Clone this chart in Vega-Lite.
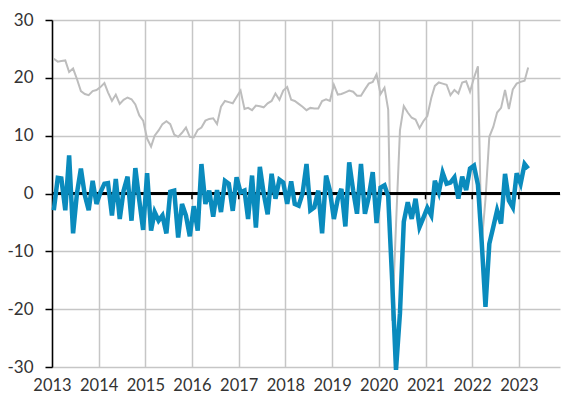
{
  "$schema": "https://vega.github.io/schema/vega-lite/v6.json",
  "autosize": {"type": "none"},
  "width": 508,
  "height": 347,
  "padding": {"left": 52, "top": 20, "right": 3, "bottom": 33},
  "background": "white",
  "config": {
    "view": {"stroke": null},
    "axis": {"labelFont": "Lato", "labelFontSize": 16, "labelColor": "#333333", "gridColor": "#c6c6c6", "gridWidth": 1.5}
  },
  "datasets": {
    "series": [
      {"d": "2013-01-15", "a": 23.3, "b": -2.9},
      {"d": "2013-02-15", "a": 22.8, "b": 2.7},
      {"d": "2013-03-15", "a": 22.9, "b": 2.6},
      {"d": "2013-04-15", "a": 23.0, "b": -2.9},
      {"d": "2013-05-15", "a": 21.0, "b": 6.6},
      {"d": "2013-06-15", "a": 21.6, "b": -6.9},
      {"d": "2013-07-15", "a": 19.8, "b": 0.0},
      {"d": "2013-08-15", "a": 17.7, "b": 4.3},
      {"d": "2013-09-15", "a": 17.2, "b": -0.3},
      {"d": "2013-10-15", "a": 17.0, "b": -2.9},
      {"d": "2013-11-15", "a": 17.7, "b": 2.2},
      {"d": "2013-12-15", "a": 17.9, "b": -1.8},
      {"d": "2014-01-15", "a": 18.4, "b": 0.2},
      {"d": "2014-02-15", "a": 19.1, "b": 1.7},
      {"d": "2014-03-15", "a": 17.5, "b": 1.8},
      {"d": "2014-04-15", "a": 16.0, "b": -3.8},
      {"d": "2014-05-15", "a": 17.1, "b": 2.5},
      {"d": "2014-06-15", "a": 15.5, "b": -4.4},
      {"d": "2014-07-15", "a": 16.2, "b": 0.5},
      {"d": "2014-08-15", "a": 16.6, "b": 2.9},
      {"d": "2014-09-15", "a": 16.3, "b": -4.7},
      {"d": "2014-10-15", "a": 15.4, "b": 4.4},
      {"d": "2014-11-15", "a": 13.5, "b": -1.2},
      {"d": "2014-12-15", "a": 12.6, "b": -6.3},
      {"d": "2015-01-15", "a": 9.5, "b": 3.5},
      {"d": "2015-02-15", "a": 8.1, "b": -6.4},
      {"d": "2015-03-15", "a": 10.0, "b": -3.2},
      {"d": "2015-04-15", "a": 10.9, "b": -4.7},
      {"d": "2015-05-15", "a": 12.0, "b": -3.8},
      {"d": "2015-06-15", "a": 12.5, "b": -6.9},
      {"d": "2015-07-15", "a": 12.0, "b": 0.3},
      {"d": "2015-08-15", "a": 10.2, "b": 0.5},
      {"d": "2015-09-15", "a": 9.8, "b": -7.6},
      {"d": "2015-10-15", "a": 10.5, "b": -1.8},
      {"d": "2015-11-15", "a": 11.4, "b": -3.8},
      {"d": "2015-12-15", "a": 9.8, "b": -7.4},
      {"d": "2016-01-15", "a": 9.7, "b": -2.2},
      {"d": "2016-02-15", "a": 11.0, "b": -6.4},
      {"d": "2016-03-15", "a": 11.4, "b": 5.1},
      {"d": "2016-04-15", "a": 12.6, "b": -1.8},
      {"d": "2016-05-15", "a": 12.9, "b": 0.5},
      {"d": "2016-06-15", "a": 13.0, "b": -4.0},
      {"d": "2016-07-15", "a": 12.0, "b": 0.6},
      {"d": "2016-08-15", "a": 15.0, "b": -3.2},
      {"d": "2016-09-15", "a": 16.0, "b": 2.2},
      {"d": "2016-10-15", "a": 15.8, "b": 1.7},
      {"d": "2016-11-15", "a": 15.6, "b": -3.0},
      {"d": "2016-12-15", "a": 16.7, "b": 2.8},
      {"d": "2017-01-15", "a": 17.8, "b": 0.2},
      {"d": "2017-02-15", "a": 14.6, "b": 0.5},
      {"d": "2017-03-15", "a": 14.8, "b": -4.4},
      {"d": "2017-04-15", "a": 14.4, "b": 3.1},
      {"d": "2017-05-15", "a": 15.2, "b": -5.9},
      {"d": "2017-06-15", "a": 15.1, "b": 4.6},
      {"d": "2017-07-15", "a": 14.9, "b": 0.0},
      {"d": "2017-08-15", "a": 15.6, "b": -3.6},
      {"d": "2017-09-15", "a": 16.0, "b": 3.4},
      {"d": "2017-10-15", "a": 17.3, "b": -0.9},
      {"d": "2017-11-15", "a": 16.2, "b": 2.4},
      {"d": "2017-12-15", "a": 17.8, "b": 1.9},
      {"d": "2018-01-15", "a": 18.4, "b": -1.8},
      {"d": "2018-02-15", "a": 16.2, "b": 2.1},
      {"d": "2018-03-15", "a": 16.0, "b": -1.8},
      {"d": "2018-04-15", "a": 15.5, "b": -2.1},
      {"d": "2018-05-15", "a": 15.0, "b": 0.0},
      {"d": "2018-06-15", "a": 14.4, "b": 5.1},
      {"d": "2018-07-15", "a": 14.8, "b": -2.9},
      {"d": "2018-08-15", "a": 14.7, "b": -2.4},
      {"d": "2018-09-15", "a": 14.7, "b": 0.5},
      {"d": "2018-10-15", "a": 16.0, "b": -6.9},
      {"d": "2018-11-15", "a": 16.3, "b": 3.1},
      {"d": "2018-12-15", "a": 16.0, "b": 0.5},
      {"d": "2019-01-15", "a": 18.8, "b": -4.4},
      {"d": "2019-02-15", "a": 17.1, "b": -0.9},
      {"d": "2019-03-15", "a": 17.2, "b": 0.8},
      {"d": "2019-04-15", "a": 17.5, "b": -5.7},
      {"d": "2019-05-15", "a": 17.8, "b": 5.4},
      {"d": "2019-06-15", "a": 17.6, "b": 0.5},
      {"d": "2019-07-15", "a": 16.9, "b": -3.5},
      {"d": "2019-08-15", "a": 16.9, "b": 5.1},
      {"d": "2019-09-15", "a": 18.0, "b": -3.5},
      {"d": "2019-10-15", "a": 19.0, "b": -0.6},
      {"d": "2019-11-15", "a": 19.3, "b": 3.7},
      {"d": "2019-12-15", "a": 20.6, "b": -5.1},
      {"d": "2020-01-15", "a": 17.2, "b": 1.0},
      {"d": "2020-02-15", "a": 18.3, "b": 1.4},
      {"d": "2020-03-15", "a": 14.5, "b": -0.5},
      {"d": "2020-04-15", "a": -22.0, "b": -15.0},
      {"d": "2020-05-15", "a": -5.5, "b": -30.5},
      {"d": "2020-06-15", "a": 10.9, "b": -20.7},
      {"d": "2020-07-15", "a": 15.1, "b": -4.9},
      {"d": "2020-08-15", "a": 14.0, "b": -1.5},
      {"d": "2020-09-15", "a": 13.1, "b": -4.4},
      {"d": "2020-10-15", "a": 12.8, "b": -0.9},
      {"d": "2020-11-15", "a": 11.3, "b": -5.8},
      {"d": "2020-12-15", "a": 12.5, "b": -4.2},
      {"d": "2021-01-15", "a": 13.4, "b": -2.5},
      {"d": "2021-02-15", "a": 16.5, "b": -3.8},
      {"d": "2021-03-15", "a": 18.6, "b": 2.2},
      {"d": "2021-04-15", "a": 19.2, "b": 0.2},
      {"d": "2021-05-15", "a": 19.0, "b": 3.6},
      {"d": "2021-06-15", "a": 18.8, "b": 1.7},
      {"d": "2021-07-15", "a": 17.0, "b": 1.9},
      {"d": "2021-08-15", "a": 17.9, "b": 2.8},
      {"d": "2021-09-15", "a": 17.3, "b": -0.9},
      {"d": "2021-10-15", "a": 19.2, "b": 2.9},
      {"d": "2021-11-15", "a": 19.4, "b": 0.6},
      {"d": "2021-12-15", "a": 17.6, "b": 4.3},
      {"d": "2022-01-15", "a": 20.0, "b": 4.8},
      {"d": "2022-02-15", "a": 22.0, "b": 1.5},
      {"d": "2022-03-15", "a": -9.0, "b": -7.8},
      {"d": "2022-04-15", "a": -1.0, "b": -19.6},
      {"d": "2022-05-15", "a": 9.8, "b": -8.7},
      {"d": "2022-06-15", "a": 11.5, "b": -5.8},
      {"d": "2022-07-15", "a": 14.0, "b": -2.9},
      {"d": "2022-08-15", "a": 14.8, "b": -5.2},
      {"d": "2022-09-15", "a": 17.9, "b": 3.4},
      {"d": "2022-10-15", "a": 14.6, "b": -1.2},
      {"d": "2022-11-15", "a": 18.0, "b": -2.4},
      {"d": "2022-12-15", "a": 19.0, "b": 3.5},
      {"d": "2023-01-15", "a": 19.3, "b": 1.7},
      {"d": "2023-02-15", "a": 19.5, "b": 5.1},
      {"d": "2023-03-15", "a": 21.8, "b": 4.3}
    ],
    "years": [
      {"t": "2014-01-01"}, {"t": "2015-01-01"}, {"t": "2016-01-01"}, {"t": "2017-01-01"}, {"t": "2018-01-01"},
      {"t": "2019-01-01"}, {"t": "2020-01-01"}, {"t": "2021-01-01"}, {"t": "2022-01-01"}, {"t": "2023-01-01"}
    ]
  },
  "layer": [
    {
      "data": {"name": "series"},
      "mark": {"type": "line", "color": "#bdbdbd", "strokeWidth": 2},
      "encoding": {
        "x": {
          "field": "d", "type": "temporal",
          "scale": {"type": "utc", "domain": ["2013-01-01", "2023-11-19"]},
          "axis": {
            "title": null, "format": "%Y", "formatType": "utc",
            "values": ["2013-01-01", "2014-01-01", "2015-01-01", "2016-01-01", "2017-01-01", "2018-01-01", "2019-01-01", "2020-01-01", "2021-01-01", "2022-01-01", "2023-01-01"],
            "grid": true, "domain": false, "ticks": false, "labelPadding": 10, "labelFlush": false, "labelOverlap": false,
            "labelFontSize": 16.5, "labelDx": 2
          }
        },
        "y": {
          "field": "a", "type": "quantitative",
          "scale": {"domain": [-30, 30], "nice": false, "zero": false},
          "axis": {
            "title": null, "values": [-30, -20, -10, 0, 10, 20, 30], "grid": true,
            "labelExpr": "'' + datum.value", "labelFontSize": 17,
            "domain": true, "domainColor": "#000000", "domainWidth": 1.5,
            "ticks": true, "tickColor": "#000000", "tickSize": 7, "tickWidth": 1.5,
            "labelPadding": 12
          }
        }
      }
    },
    {
      "data": {"name": "series"},
      "mark": {"type": "rule", "color": "#000000", "strokeWidth": 1.5},
      "encoding": {"y": {"datum": 0, "type": "quantitative"}}
    },
    {
      "data": {"name": "years"},
      "mark": {"type": "rule", "color": "#000000", "strokeWidth": 1.5},
      "encoding": {
        "x": {"field": "t", "type": "temporal"},
        "y": {"datum": 0, "type": "quantitative"},
        "y2": {"datum": -1}
      }
    },
    {
      "data": {"name": "series"},
      "mark": {"type": "line", "color": "#0a8bbd", "strokeWidth": 4.5},
      "encoding": {
        "x": {"field": "d", "type": "temporal"},
        "y": {"field": "b", "type": "quantitative"}
      }
    }
  ]
}
